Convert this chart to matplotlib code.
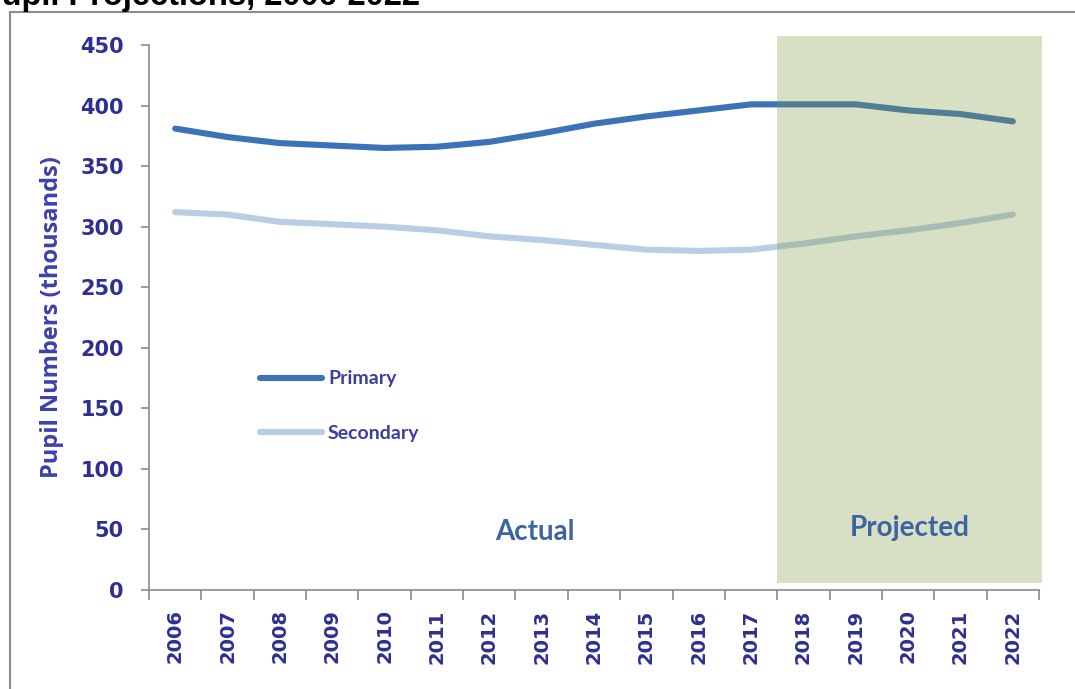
import matplotlib
matplotlib.use("Agg")
import matplotlib.pyplot as plt
from matplotlib.patches import Rectangle

years = [str(y) for y in range(2006, 2023)]
primary = [381, 374, 369, 367, 365, 366, 370, 377, 385, 391, 396, 401, 401, 401, 396, 393, 387]
secondary = [312, 310, 304, 302, 300, 297, 292, 289, 285, 281, 280, 281, 286, 292, 297, 303, 310]
yticks = [0, 50, 100, 150, 200, 250, 300, 350, 400, 450]

tick_col = "#2d2f92"
text_blue = "#3b64a0"

fig = plt.figure(figsize=(10.75, 6.89), dpi=100)
ax = fig.add_axes([149 / 1075, 1 - 590 / 689, 890 / 1075, 545 / 689])

x = list(range(len(years)))
ax.plot(x, primary, color="#3b72b8", lw=4.4, solid_capstyle="round", label="Primary", zorder=3)
ax.plot(x, secondary, color="#b9cde5", lw=4.4, solid_capstyle="round", label="Secondary", zorder=3)

# projected period shading (drawn over the lines, like the original)
ax.add_patch(Rectangle((11.5, 5.8), 5.06, 452, facecolor="#7f9941", alpha=0.31,
                       edgecolor="none", clip_on=False, zorder=4))

ax.text(6.87, 48, "Actual", color=text_blue, fontsize=20, fontweight="bold",
        family="Lato", ha="center", va="center", zorder=5)
ax.text(14.03, 51, "Projected", color=text_blue, fontsize=20, fontweight="bold",
        family="Lato", ha="center", va="center", zorder=5)

ax.set_xlim(-0.5, 16.5)
ax.set_ylim(0, 450)
ax.set_yticks(yticks)
ax.set_xticks([i - 0.5 for i in range(len(years) + 1)])
ax.set_xticklabels([])
ax.set_xticks(x, minor=True)
ax.set_xticklabels(years, minor=True, rotation=90)

for s in ["top", "right"]:
    ax.spines[s].set_visible(False)
for s in ["left", "bottom"]:
    ax.spines[s].set_color("#8a8a8a")
    ax.spines[s].set_linewidth(1.2)

ax.tick_params(axis="y", length=6, width=1.2, color="#8a8a8a", labelcolor=tick_col,
               labelsize=15, pad=12)
ax.tick_params(axis="x", which="major", length=7, width=1.2, color="#8a8a8a")
ax.tick_params(axis="x", which="minor", length=0, labelcolor=tick_col, labelsize=14, pad=14)
for lab in ax.get_yticklabels() + ax.get_xticklabels(minor=True):
    lab.set_fontweight("bold")

ax.set_ylabel("Pupil Numbers (thousands)", color="#3f3fae", fontsize=17,
              fontweight="bold", family="Open Sans", labelpad=12)

leg = ax.legend(loc="upper left", bbox_to_anchor=(0.1247, 0.403), frameon=False,
                borderpad=0, borderaxespad=0, handlelength=3.2, handletextpad=0.3,
                labelspacing=1.95, prop={"family": "Lato", "weight": "bold", "size": 14})
for t in leg.get_texts():
    t.set_color("#3d3da0")

# outer chart border and clipped title
fig.patches.append(Rectangle((10 / 1075, -0.1), 1.2, 1.1 - 12 / 689, transform=fig.transFigure,
                             fill=False, edgecolor="#8c8c8c", lw=1.5))
fig.text(-20 / 1075, 1 - 5 / 689, "Pupil Projections, 2006-2022", fontsize=23.5,
         fontweight="bold", family="Liberation Sans", va="baseline", ha="left")

fig.savefig("out.png", dpi=100)
